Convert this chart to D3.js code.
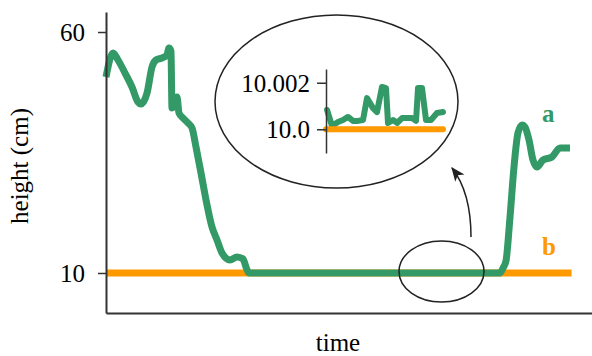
<!DOCTYPE html>
<html>
<head>
<meta charset="utf-8">
<script src="https://cdn.jsdelivr.net/npm/d3@7"></script>
<style>
  html, body { margin: 0; padding: 0; background: #fff; }
  svg { display: block; }
  text { font-family: "Liberation Serif", "Times New Roman", serif; }
</style>
</head>
<body>
<svg id="chart" width="592" height="356"></svg>
<script>
// ---- data ----
const timeA = [0, 1.44, 2.47, 3.91, 5.35, 6.58, 7.2, 8.44, 9.47, 10.29, 11.52, 12.55, 12.96, 13.37,
  13.58, 14.2, 14.61, 15.02, 15.84, 16.87, 17.7, 18.52, 19.55, 20.58, 21.81, 22.84, 23.87, 25.51,
  26.95, 28.19, 28.81, 29.42, 36, 44, 52, 58,
  61.15, 61.87, 62.74, 63.47, 64.2, 64.92, 65.65, 66.38, 66.96, 67.83, 68.41, 69.14, 69.72, 70.01,
  70.74, 71.32, 72.05, 73.5, 74.08, 74.37, 74.95, 75.53, 76.26, 77.13, 78,
  81.07, 81.69, 82.3, 83.13, 83.95, 84.77, 85.6, 86.21, 87.04, 87.86, 88.68, 89.92, 91.77, 93.42, 95.47];
const seriesA = [50.66, 55.64, 54.19, 51.49, 48.59, 45.48, 45.06, 47.34, 52.74, 54.19, 54.61, 55.23, 56.68, 56.06,
  44.23, 45.27, 46.51, 43.2, 42.16, 41.12, 40.08, 36.14, 30.75, 25.15, 19.54, 16.85, 14.15, 12.7,
  13.32, 12.9, 11.24, 10.0, 10.0004, 10.0006, 10.0003, 10.0005,
  10.00083, 10.00014, 10.00031, 10.0004, 10.00053, 10.00036, 10.00036, 10.0004, 10.00134, 10.00091,
  10.00074, 10.00182, 10.00177, 10.00027, 10.0004, 10.00027, 10.00048, 10.00048, 10.00036, 10.00177,
  10.00177, 10.0004, 10.0004, 10.0007, 10.00074,
  10.0, 11.04, 12.49, 21.62, 31.99, 39.05, 40.71, 40.29, 37.59, 33.44, 31.99, 33.44, 34.07, 35.93, 35.93];
const timeB = [0, 95.8];
const seriesB = [10, 10];

const yTicks = [10, 60];
const yTickLabels = ["10", "60"];
const insetRange = [61, 78];
const insetTicks = [10.0, 10.002];
const insetTickLabels = ["10.0", "10.002"];
const seriesNames = ["a", "b"];
const xLabel = "time";
const yLabel = "height (cm)";

const green = "#339966", orange = "#ff9900", ink = "#333";

// ---- main chart ----
const svg = d3.select("#chart");
const x = d3.scaleLinear().domain([0, 100]).range([106, 592]);
const y = d3.scaleLinear().domain([1.7, 64.15]).range([313, 12]);

const ptsA = timeA.map((t, i) => [t, seriesA[i]]);
const ptsB = timeB.map((t, i) => [t, seriesB[i]]);
const line = d3.line().x(d => x(d[0])).y(d => y(d[1])).curve(d3.curveMonotoneX);

svg.append("path").datum(ptsB).attr("d", line)
  .attr("fill", "none").attr("stroke", orange).attr("stroke-width", 7).attr("stroke-linejoin", "round");
svg.append("path").datum(ptsA).attr("d", line)
  .attr("fill", "none").attr("stroke", green).attr("stroke-width", 7).attr("stroke-linejoin", "round");

// axes
const yAxis = d3.axisLeft(y).tickValues(yTicks).tickFormat((d, i) => yTickLabels[i])
  .tickSizeInner(8).tickSizeOuter(0).tickPadding(13);
const gy = svg.append("g").attr("transform", "translate(106,0)").call(yAxis);
const xAxis = d3.axisBottom(x).tickValues([]).tickSizeOuter(0);
const gx = svg.append("g").attr("transform", "translate(0,313)").call(xAxis);
[gy, gx].forEach(g => {
  g.select(".domain").attr("stroke", ink).attr("stroke-width", 2);
  g.selectAll(".tick line").attr("stroke", ink).attr("stroke-width", 1.5);
  g.selectAll(".tick text").attr("fill", "#000").style("font-size", "25px")
    .style("font-family", '"Liberation Serif", "Times New Roman", serif');
});
gy.selectAll(".tick text").attr("dy", "0.34em");

svg.append("text").attr("x", 338).attr("y", 351).attr("text-anchor", "middle")
  .style("font-size", "25px").text(xLabel);
svg.append("text").attr("transform", "translate(28,166) rotate(-90)").attr("text-anchor", "middle")
  .style("font-size", "25px").text(yLabel);

// series labels
svg.append("text").attr("x", 542).attr("y", 122).attr("fill", green)
  .style("font-size", "25px").style("font-weight", "bold").text(seriesNames[0]);
svg.append("text").attr("x", 542).attr("y", 255).attr("fill", orange)
  .style("font-size", "25px").style("font-weight", "bold").text(seriesNames[1]);

// small ellipse around zoomed region
svg.append("ellipse").attr("cx", 441.5).attr("cy", 271.5).attr("rx", 42.5).attr("ry", 30.5)
  .attr("fill", "none").attr("stroke", "#222").attr("stroke-width", 1.5);

// arrow
svg.append("defs").append("marker").attr("id", "arr")
  .attr("markerUnits", "userSpaceOnUse").attr("markerWidth", 14).attr("markerHeight", 14)
  .attr("viewBox", "0 0 12 10").attr("refX", 11).attr("refY", 5).attr("orient", "auto")
  .append("path").attr("d", "M0,0 L12,5 L0,10 L3,5 Z").attr("fill", "#222");
svg.append("path").attr("d", "M471,237 C471,210 466,186 452,168")
  .attr("fill", "none").attr("stroke", "#222").attr("stroke-width", 1.5).attr("marker-end", "url(#arr)");

// big ellipse
svg.append("ellipse").attr("cx", 336.5).attr("cy", 101.5).attr("rx", 121.5).attr("ry", 86.5)
  .attr("fill", "white").attr("stroke", "#222").attr("stroke-width", 1.5);

// ---- inset ----
const xi = d3.scaleLinear().domain(insetRange).range([326, 443]);
const yi = d3.scaleLinear().domain([9.99898, 10.00259]).range([153, 69]);
const inA = ptsA.filter(d => d[0] >= insetRange[0] && d[0] <= insetRange[1]);
const inB = insetRange.map(t => [t, 10]);
const lineI = d3.line().x(d => xi(d[0])).y(d => yi(d[1]));

const ins = svg.append("g");
ins.append("path").datum(inA).attr("d", lineI)
  .attr("fill", "none").attr("stroke", green).attr("stroke-width", 6)
  .attr("stroke-linejoin", "round").attr("stroke-linecap", "round");
ins.append("path").datum(inB).attr("d", lineI)
  .attr("fill", "none").attr("stroke", orange).attr("stroke-width", 6).attr("stroke-linecap", "round");

const yiAxis = d3.axisLeft(yi).tickValues(insetTicks).tickFormat((d, i) => insetTickLabels[i])
  .tickSizeInner(9).tickSizeOuter(0).tickPadding(7);
const gyi = ins.append("g").attr("transform", "translate(326,0)").call(yiAxis);
gyi.select(".domain").attr("stroke", ink).attr("stroke-width", 1.5);
gyi.selectAll(".tick line").attr("stroke", ink).attr("stroke-width", 1.5);
gyi.selectAll(".tick text").attr("fill", "#000").attr("dy", "0.34em").style("font-size", "25px")
  .style("font-family", '"Liberation Serif", "Times New Roman", serif');
</script>
</body>
</html>
